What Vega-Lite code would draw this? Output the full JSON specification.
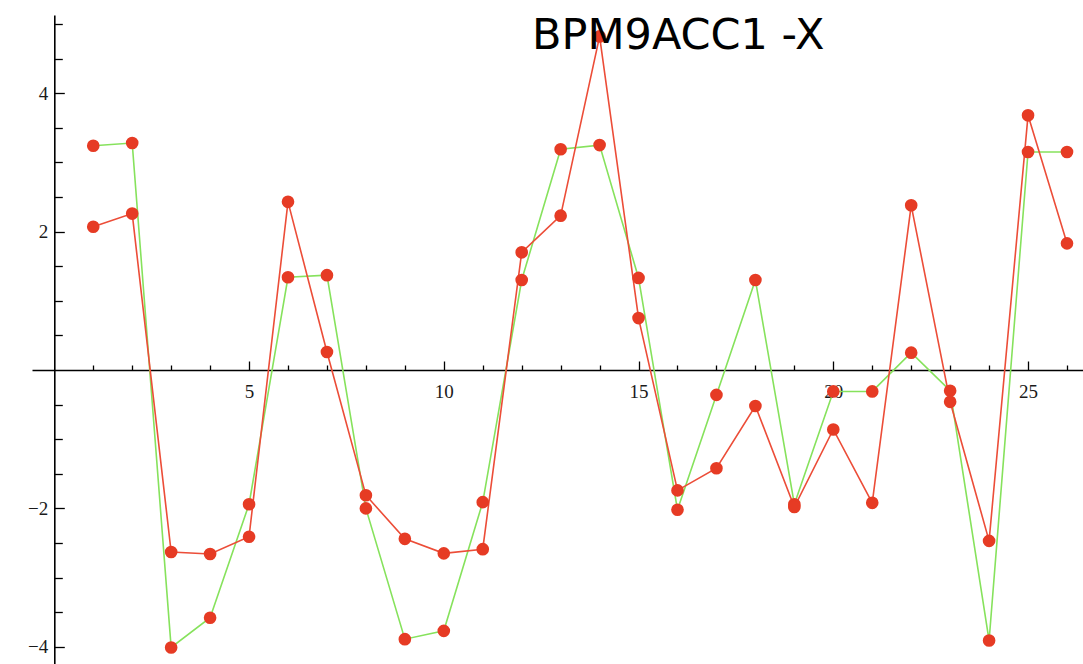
{
  "$schema": "https://vega.github.io/schema/vega-lite/v6.json",
  "width": 1051,
  "height": 649,
  "autosize": {"type": "none"},
  "padding": {"left": 32, "top": 15, "right": 0, "bottom": 0},
  "background": "white",
  "config": {"view": {"stroke": null}},
  "title": {
    "text": "BPM9ACC1 -X",
    "anchor": "start",
    "frame": "group",
    "orient": "top",
    "dx": 500,
    "offset": -77,
    "baseline": "alphabetic",
    "font": "DejaVu Sans",
    "fontSize": 43,
    "fontWeight": "normal",
    "color": "#000000"
  },
  "data": {
    "values": [
      {"n": 1, "series": "list 1", "value": 3.24},
      {"n": 2, "series": "list 1", "value": 3.28},
      {"n": 3, "series": "list 1", "value": -4.01},
      {"n": 4, "series": "list 1", "value": -3.58},
      {"n": 5, "series": "list 1", "value": -1.94},
      {"n": 6, "series": "list 1", "value": 1.34},
      {"n": 7, "series": "list 1", "value": 1.37},
      {"n": 8, "series": "list 1", "value": -2.0},
      {"n": 9, "series": "list 1", "value": -3.89},
      {"n": 10, "series": "list 1", "value": -3.77},
      {"n": 11, "series": "list 1", "value": -1.91},
      {"n": 12, "series": "list 1", "value": 1.3},
      {"n": 13, "series": "list 1", "value": 3.19},
      {"n": 14, "series": "list 1", "value": 3.25},
      {"n": 15, "series": "list 1", "value": 1.33},
      {"n": 16, "series": "list 1", "value": -2.02},
      {"n": 17, "series": "list 1", "value": -0.36},
      {"n": 18, "series": "list 1", "value": 1.3},
      {"n": 19, "series": "list 1", "value": -1.94},
      {"n": 20, "series": "list 1", "value": -0.31},
      {"n": 21, "series": "list 1", "value": -0.31},
      {"n": 22, "series": "list 1", "value": 0.25},
      {"n": 23, "series": "list 1", "value": -0.3},
      {"n": 24, "series": "list 1", "value": -3.91},
      {"n": 25, "series": "list 1", "value": 3.15},
      {"n": 26, "series": "list 1", "value": 3.15},
      {"n": 1, "series": "list 2", "value": 2.07},
      {"n": 2, "series": "list 2", "value": 2.26},
      {"n": 3, "series": "list 2", "value": -2.63},
      {"n": 4, "series": "list 2", "value": -2.66},
      {"n": 5, "series": "list 2", "value": -2.41},
      {"n": 6, "series": "list 2", "value": 2.43},
      {"n": 7, "series": "list 2", "value": 0.26},
      {"n": 8, "series": "list 2", "value": -1.81},
      {"n": 9, "series": "list 2", "value": -2.44},
      {"n": 10, "series": "list 2", "value": -2.65},
      {"n": 11, "series": "list 2", "value": -2.59},
      {"n": 12, "series": "list 2", "value": 1.7},
      {"n": 13, "series": "list 2", "value": 2.23},
      {"n": 14, "series": "list 2", "value": 4.82},
      {"n": 15, "series": "list 2", "value": 0.75},
      {"n": 16, "series": "list 2", "value": -1.74},
      {"n": 17, "series": "list 2", "value": -1.42},
      {"n": 18, "series": "list 2", "value": -0.52},
      {"n": 19, "series": "list 2", "value": -1.98},
      {"n": 20, "series": "list 2", "value": -0.86},
      {"n": 21, "series": "list 2", "value": -1.92},
      {"n": 22, "series": "list 2", "value": 2.38},
      {"n": 23, "series": "list 2", "value": -0.46},
      {"n": 24, "series": "list 2", "value": -2.47},
      {"n": 25, "series": "list 2", "value": 3.68},
      {"n": 26, "series": "list 2", "value": 1.83}
    ]
  },
  "encoding": {
    "x": {
      "field": "n",
      "type": "quantitative",
      "scale": {"domain": [-0.5725, 26.411], "nice": false, "zero": false},
      "axis": {
        "title": null,
        "orient": "bottom",
        "offset": -294,
        "values": [1,2,3,4,5,6,7,8,9,10,11,12,13,14,15,16,17,18,19,20,21,22,23,24,25,26],
        "format": "d",
        "labelExpr": "datum.value % 5 === 0 ? datum.label : ''",
        "tickSize": {"condition": {"test": "datum.value % 5 === 0", "value": -9}, "value": -5},
        "labelPadding": 21.5,
        "labelBaseline": "top",
        "labelAlign": "center",
        "labelFont": "Liberation Serif",
        "labelFontSize": 19,
        "labelColor": "#1a1a1a",
        "labelOverlap": false,
        "labelFlush": false,
        "domainColor": "#000000",
        "domainWidth": 1.4,
        "tickColor": "#000000",
        "tickWidth": 1.3,
        "grid": false
      }
    },
    "y": {
      "field": "value",
      "type": "quantitative",
      "scale": {"domain": [-4.249, 5.13], "nice": false, "zero": false},
      "axis": {
        "title": null,
        "orient": "left",
        "offset": -22.3,
        "values": [-4, -3.5, -3, -2.5, -2, -1.5, -1, -0.5, 0.5, 1, 1.5, 2, 2.5, 3, 3.5, 4, 4.5, 5],
        "format": "~g",
        "labelExpr": "datum.value % 2 === 0 ? datum.label : ''",
        "tickSize": {"condition": {"test": "datum.value % 2 === 0", "value": -10}, "value": -8},
        "labelPadding": 16.6,
        "labelAlign": "right",
        "labelBaseline": "middle",
        "labelFont": "Liberation Serif",
        "labelFontSize": 19,
        "labelColor": "#1a1a1a",
        "labelOverlap": false,
        "labelFlush": false,
        "domainColor": "#000000",
        "domainWidth": 1.6,
        "tickColor": "#000000",
        "tickWidth": 1.3,
        "grid": false
      }
    }
  },
  "layer": [
    {
      "mark": {"type": "line", "strokeWidth": 1.6},
      "encoding": {
        "color": {
          "field": "series",
          "type": "nominal",
          "scale": {"domain": ["list 1", "list 2"], "range": ["#86e25c", "#ec4d38"]},
          "legend": null
        }
      }
    },
    {
      "mark": {"type": "circle", "size": 160, "opacity": 1, "color": "#e63b24"},
      "encoding": {}
    }
  ]
}
